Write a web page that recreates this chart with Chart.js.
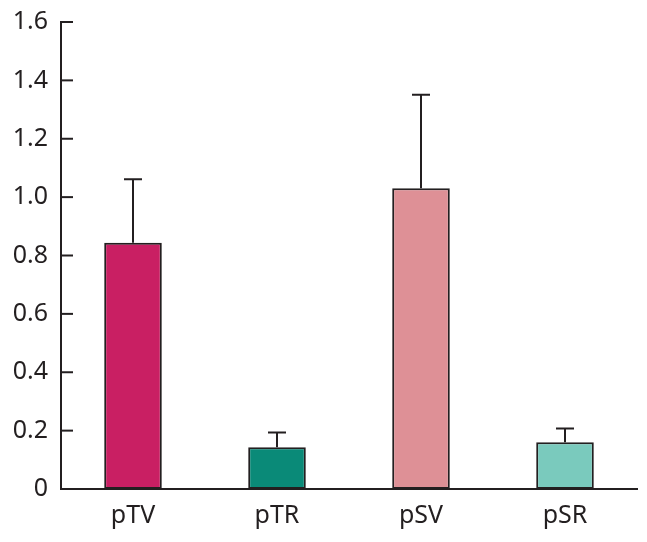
<!DOCTYPE html>
<html><head><meta charset="utf-8">
<script src="https://cdn.jsdelivr.net/npm/chart.js@4"></script>
<style>html,body{margin:0;padding:0;background:#fff}#w{width:647px;height:542px}</style>
</head><body><div id="w"><canvas id="c"></canvas></div>
<script>
const categories = ["pTV", "pTR", "pSV", "pSR"];
const means = [0.844, 0.143, 1.030, 0.160];
const errorTops = [1.061, 0.194, 1.351, 0.207];
const barColors = ["#C91F63", "#0A8A78", "#DE9096", "#7ACABD"];
const yTicks = [0, 0.2, 0.4, 0.6, 0.8, 1.0, 1.2, 1.4, 1.6];

const FONT = "'Noto Sans', sans-serif";
const INK = "#231f20";

const errPlugin = {
  id: 'errAndTicks',
  afterDatasetsDraw(chart) {
    const ctx = chart.ctx, y = chart.scales.y;
    const meta = chart.getDatasetMeta(0);
    ctx.save();
    ctx.strokeStyle = INK; ctx.lineWidth = 2;
    meta.data.forEach((bar, i) => {
      const top = y.getPixelForValue(means[i]);
      const et = y.getPixelForValue(errorTops[i]);
      ctx.beginPath();
      ctx.moveTo(bar.x, top); ctx.lineTo(bar.x, et);
      ctx.moveTo(bar.x - 9, et); ctx.lineTo(bar.x + 9, et);
      ctx.stroke();
    });
    const x0 = chart.chartArea.left;
    yTicks.forEach(v => {
      const py = y.getPixelForValue(v);
      ctx.beginPath(); ctx.moveTo(x0, py); ctx.lineTo(x0 + 12, py); ctx.stroke();
    });
    ctx.restore();
  }
};

new Chart(document.getElementById('c'), {
  type: 'bar',
  data: {
    labels: categories,
    datasets: [{
      data: means,
      backgroundColor: barColors,
      borderColor: INK,
      borderWidth: 2,
      borderSkipped: false,
      barPercentage: 0.4,
      categoryPercentage: 1.0
    }]
  },
  options: {
    responsive: true, maintainAspectRatio: false, animation: false,
    devicePixelRatio: 1,
    layout: { padding: { top: 22, right: 10, left: 0, bottom: 0 } },
    plugins: { legend: { display: false }, tooltip: { enabled: false } },
    scales: {
      x: {
        grid: { display: false, drawTicks: false },
        border: { display: true, color: INK, width: 2 },
        ticks: { color: INK, padding: 12, font: { family: FONT, size: 25 } },
        afterFit(s) { s.height = 53; s.paddingLeft = 0; s.paddingRight = 0; }
      },
      y: {
        min: 0, max: 1.6,
        afterBuildTicks(s) { s.ticks = yTicks.map(v => ({ value: v })); },
        grid: { display: false, drawTicks: false },
        border: { display: true, color: INK, width: 2 },
        ticks: {
          color: INK, padding: 13, font: { family: FONT, size: 25 },
          callback: v => v === 0 ? '0' : Number(v).toFixed(1)
        },
        afterFit(s) { s.width = 61; s.paddingTop = 0; s.paddingBottom = 0; }
      }
    }
  },
  plugins: [errPlugin]
});
</script></body></html>
